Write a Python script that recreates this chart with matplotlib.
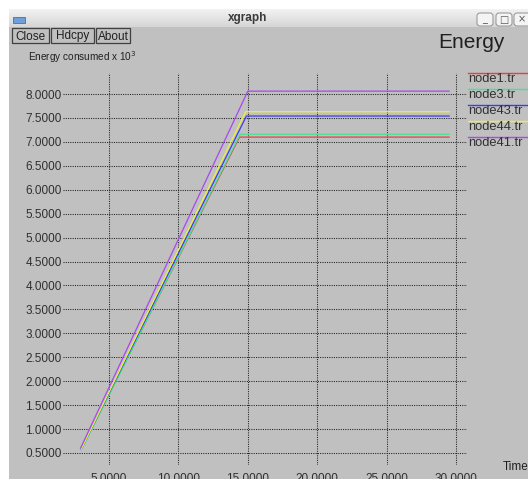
'''  xgraph style Energy plot recreated with matplotlib'''

import matplotlib
matplotlib.use('Agg')
import matplotlib.pyplot as plt
from matplotlib.patches import Rectangle, FancyBboxPatch
import numpy as np

W, H = 528, 479

# data
node1_t = [3.0, 14.4, 29.5]
node1_e = [0.58, 7.10, 7.10]
node3_t = [3.0, 14.45, 29.5]
node3_e = [0.56, 7.16, 7.16]
node43_t = [3.0, 14.9, 29.5]
node43_e = [0.58, 7.54, 7.54]
node44_t = [3.0, 14.85, 29.5]
node44_e = [0.58, 7.63, 7.63]
node41_t = [2.95, 15.0, 29.5]
node41_e = [0.60, 8.06, 8.06]

names = ['node1.tr', 'node3.tr', 'node43.tr', 'node44.tr', 'node41.tr']
colors = ['#f03c3c', '#3ce896', '#3c3cf0', '#f0f03c', '#a848f0']
series = [(node1_t, node1_e), (node3_t, node3_e), (node43_t, node43_e),
          (node44_t, node44_e), (node41_t, node41_e)]

x_ticks = [5, 10, 15, 20, 25, 30]
y_ticks = [0.5, 1.0, 1.5, 2.0, 2.5, 3.0, 3.5, 4.0, 4.5, 5.0, 5.5, 6.0, 6.5, 7.0, 7.5, 8.0]

plt.rcParams['font.family'] = ['Liberation Sans', 'DejaVu Sans']


def fx(px):
    return px / W


def fy(py):
    return 1 - py / H


fig = plt.figure(figsize=(W / 100, H / 100), dpi=100)
fig.patch.set_facecolor('white')

# window body and title bar
fig.patches.append(Rectangle((fx(9), 0), 1 - fx(9), fy(27), transform=fig.transFigure,
                             facecolor='#c0c0c0', edgecolor='none', zorder=-10))
grad = np.linspace(0, 1, 20).reshape(-1, 1)
bar_ax = fig.add_axes([fx(9), fy(27), 1 - fx(9), (27 - 9) / H])
bar_ax.imshow(grad, cmap=matplotlib.colors.LinearSegmentedColormap.from_list('g', ['#f2f2f2', '#d6d6d6']),
              aspect='auto', extent=[0, 1, 0, 1])
bar_ax.axis('off')
fig.patches.append(Rectangle((fx(9), fy(9)), 1 - fx(9), 0.5 / H, transform=fig.transFigure,
                             facecolor='#a0a0a0', edgecolor='none', zorder=3))
fig.patches.append(Rectangle((fx(13), fy(23)), 12 / W, 6 / H, transform=fig.transFigure,
                             facecolor='#6f9fd8', edgecolor='#4a6fa0', lw=0.6, zorder=3))
fig.text(fx(248), fy(18), 'xgraph', ha='center', va='center', fontsize=8.5, fontweight='bold',
         color='#3a3a3a', zorder=4)
for x0, sym in [(477, '_'), (496, '□'), (514, '×')]:
    fig.patches.append(FancyBboxPatch((fx(x0), fy(26)), 16 / W, 13 / H, transform=fig.transFigure,
                                      boxstyle='round,pad=0,rounding_size=0.006',
                                      facecolor='#f4f4f4', edgecolor='#909090', lw=0.7, zorder=3))
    fig.text(fx(x0 + 8), fy(19.5), sym, ha='center', va='center', fontsize=7,
             color='#555555', zorder=4, family='DejaVu Sans')

# buttons
for x0, x1, label in [(12, 49, 'Close'), (51, 94, 'Hdcpy'), (96, 130, 'About')]:
    fig.patches.append(Rectangle((fx(x0), fy(43)), (x1 - x0) / W, 15 / H, transform=fig.transFigure,
                                 facecolor='#c0c0c0', edgecolor='#404040', lw=0.9, zorder=3))
    fig.text(fx((x0 + x1) / 2), fy(36.5), label, ha='center', va='center', fontsize=8.5,
             color='#202020', zorder=4)

fig.text(fx(505), fy(42), 'Energy', ha='right', va='center', fontsize=15, color='#202020')
fig.text(fx(28), fy(57.5), 'Energy consumed x 10$^3$', ha='left', va='center', fontsize=7.2,
         color='#202020')
fig.text(fx(503), fy(467), 'Time', ha='left', va='center', fontsize=8.5, color='#202020')

# plot area
ax = fig.add_axes([fx(63), fy(465), (467 - 63) / W, (465 - 73) / H])
ax.set_facecolor('none')
for i, (t, e) in enumerate(series):
    ax.plot(t, e, color=colors[i], linewidth=0.9, zorder=3 + i)

ax.set_xlim(1.686, 30.79)
ax.set_ylim(0.249, 8.439)
ax.set_xticks(x_ticks)
ax.set_yticks(y_ticks)
ax.set_xticklabels(['%.4f' % v for v in x_ticks])
ax.set_yticklabels(['%.4f' % v for v in y_ticks])
ax.tick_params(length=0, labelsize=8.5, colors='#303030')
ax.tick_params(axis='x', pad=5.5)
ax.tick_params(axis='y', pad=0.8)
ax.grid(True, color='#202020', linestyle=(0, (1, 1.2)), linewidth=0.75)
for s in ax.spines.values():
    s.set_visible(False)

# legend drawn xgraph style at the right
for i, name in enumerate(names):
    ly = 72.7 + 16 * i
    fig.add_artist(plt.Line2D([fx(468), 1], [fy(ly), fy(ly)], color=colors[i], lw=1.0,
                              transform=fig.transFigure))
    fig.text(fx(468), fy(ly + 6), name, ha='left', va='center', fontsize=9.3, color='#303030')

fig.savefig('out.png', dpi=100)
